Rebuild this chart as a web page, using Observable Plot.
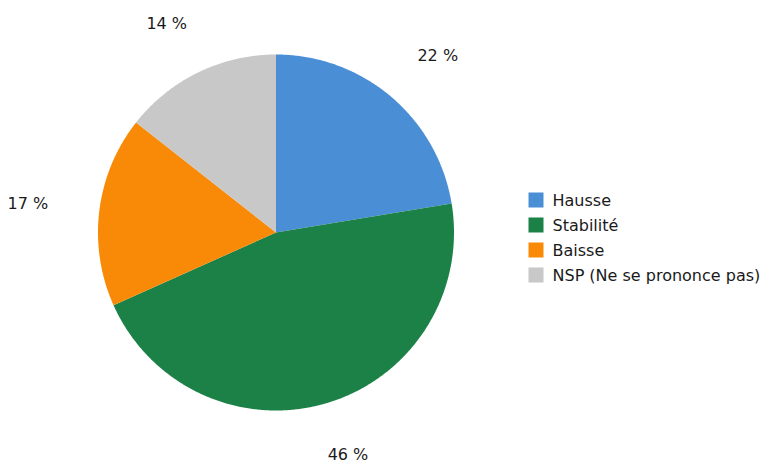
<!DOCTYPE html>
<html>
<head>
<meta charset="utf-8">
<script src="https://cdn.jsdelivr.net/npm/d3@7"></script>
<script src="https://cdn.jsdelivr.net/npm/@observablehq/plot@0.6"></script>
<style>
  html, body { margin: 0; padding: 0; background: #fff; }
</style>
</head>
<body>
<div id="chart"></div>
<script>
const categories = ["Hausse", "Stabilité", "Baisse", "NSP (Ne se prononce pas)"];
const values = [22.4, 45.9, 17.3, 14.4];
const valueLabels = ["22 %", "46 %", "17 %", "14 %"];
const colors = ["#4a8fd6", "#1b8147", "#f88a07", "#c8c8c8"];

const W = 762, H = 464;
const cx = 275.5, cy = 232, R = 178, labelRx = 250, labelRy = 232;

const arcs = d3.pie().sort(null).value(d => d)(values);

const slicePts = [];
arcs.forEach((a, i) => {
  const key = categories[i];
  slicePts.push({key, x: cx, y: cy});
  const n = Math.max(2, Math.ceil((a.endAngle - a.startAngle) / (Math.PI / 360)));
  for (let k = 0; k <= n; k++) {
    const t = a.startAngle + (a.endAngle - a.startAngle) * k / n;
    slicePts.push({key, x: cx + R * Math.sin(t), y: cy - R * Math.cos(t)});
  }
  slicePts.push({key, x: cx, y: cy});
});

const labelData = arcs.map((a, i) => {
  const m = (a.startAngle + a.endAngle) / 2;
  return {text: valueLabels[i], x: cx + labelRx * Math.sin(m), y: cy - labelRy * Math.cos(m)};
});

const legendData = categories.map((c, i) => ({key: c, x: 536, y: 200 + i * 25}));

const chart = Plot.plot({
  width: W,
  height: H,
  margin: 0,
  style: {fontFamily: "DejaVu Sans, Verdana, sans-serif", fontSize: "16px", background: "#fff"},
  x: {domain: [0, W], range: [0, W], axis: null},
  y: {domain: [0, H], range: [0, H], axis: null},
  color: {domain: categories, range: colors},
  marks: [
    Plot.line(slicePts, {x: "x", y: "y", z: "key", fill: "key", stroke: "none", curve: "linear"}),
    Plot.text(labelData, {x: "x", y: "y", text: "text", fontSize: 16, fill: "#1a1a1a", textAnchor: "middle", lineAnchor: "middle"}),
    Plot.rect(legendData, {x1: d => d.x - 7.5, x2: d => d.x + 7.5, y1: d => d.y - 7.5, y2: d => d.y + 7.5, fill: "key"}),
    Plot.text(legendData, {x: d => d.x + 16, y: "y", text: "key", fontSize: 16, fill: "#1a1a1a", textAnchor: "start", lineAnchor: "middle"})
  ]
});

document.getElementById("chart").appendChild(chart);
</script>
</body>
</html>
